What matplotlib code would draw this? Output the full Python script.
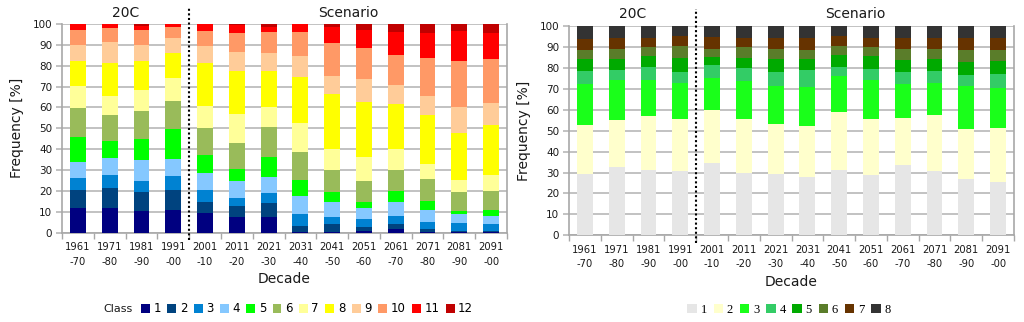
import matplotlib
matplotlib.use("Agg")
import matplotlib.pyplot as plt
from matplotlib.patches import Patch
import numpy as np

decades = ["1961\n-70", "1971\n-80", "1981\n-90", "1991\n-00", "2001\n-10", "2011\n-20",
           "2021\n-30", "2031\n-40", "2041\n-50", "2051\n-60", "2061\n-70", "2071\n-80",
           "2081\n-90", "2091\n-00"]

# Left chart: cumulative tops (%) of classes 1..11 per decade (class 12 fills to 100)
left_cum = [
    [12.0, 20.4, 26.4, 33.9, 45.8, 59.7, 70.3, 82.3, 89.9, 97.3, 100.0],
    [12.0, 21.6, 27.6, 35.9, 43.9, 56.2, 65.7, 81.2, 91.4, 98.1, 100.0],
    [10.5, 19.5, 24.8, 34.7, 44.7, 58.5, 68.4, 82.4, 90.1, 97.3, 99.1],
    [10.9, 20.3, 27.2, 35.5, 49.5, 63.3, 74.1, 85.9, 93.1, 98.6, 100.0],
    [9.3, 14.9, 20.3, 28.8, 37.4, 50.3, 60.9, 81.2, 89.3, 96.8, 100.0],
    [7.5, 12.9, 16.6, 24.9, 30.5, 42.8, 57.0, 77.5, 86.7, 95.7, 99.5],
    [7.7, 14.1, 18.8, 26.5, 36.4, 50.5, 60.4, 77.5, 86.1, 96.0, 98.4],
    [0.5, 3.2, 9.1, 17.6, 25.2, 38.8, 52.7, 74.4, 84.5, 96.0, 100.0],
    [0.3, 4.2, 7.7, 14.5, 19.6, 30.0, 39.9, 66.6, 74.9, 91.1, 98.4],
    [1.0, 2.7, 6.5, 11.7, 14.9, 24.9, 36.1, 62.5, 73.6, 88.7, 97.1],
    [1.9, 4.3, 8.0, 14.5, 19.8, 29.9, 39.9, 61.5, 70.6, 85.3, 96.0],
    [0.5, 1.6, 5.3, 10.9, 15.3, 25.6, 32.7, 56.2, 65.5, 83.9, 95.5],
    [0.3, 0.8, 4.5, 8.9, 10.2, 19.6, 25.2, 47.9, 60.2, 82.4, 96.8],
    [0.3, 0.6, 4.0, 7.8, 11.0, 20.1, 27.6, 51.6, 62.3, 83.2, 95.5],
]
left_classes = [str(i) for i in range(1, 13)]
left_colors = ["#000080", "#00437f", "#0082d2", "#85c8ff", "#00ff00", "#99bb5a",
               "#ffff99", "#ffff00", "#ffcc99", "#ff9966", "#ff0000", "#c00000"]

# Right chart: cumulative tops (%) of classes 1..7 (class 8 fills to 100)
right_cum = [
    [29.3, 52.9, 72.3, 78.5, 84.1, 88.7, 93.8],
    [32.6, 54.9, 74.0, 79.0, 84.4, 89.0, 94.1],
    [31.2, 57.2, 74.4, 80.6, 85.5, 90.1, 94.4],
    [30.6, 55.4, 72.6, 77.9, 84.9, 90.6, 95.1],
    [34.6, 59.7, 75.2, 81.2, 85.0, 89.2, 94.6],
    [29.8, 55.7, 73.9, 80.1, 84.9, 89.8, 94.4],
    [29.3, 53.2, 71.3, 77.9, 84.4, 89.2, 94.1],
    [27.7, 52.2, 71.0, 78.8, 84.4, 88.7, 94.1],
    [31.1, 59.1, 76.3, 80.6, 86.1, 90.3, 95.2],
    [28.7, 55.4, 74.0, 79.5, 85.8, 90.0, 94.4],
    [33.4, 55.9, 72.3, 78.0, 83.8, 88.9, 94.1],
    [30.9, 57.5, 72.6, 78.7, 84.4, 89.0, 94.1],
    [26.9, 50.6, 71.3, 76.6, 82.8, 88.4, 94.1],
    [25.6, 51.1, 70.2, 77.1, 83.4, 88.7, 94.1],
]
right_classes = [str(i) for i in range(1, 9)]
right_colors = ["#e6e6e6", "#ffffcc", "#1aff1a", "#33cc66", "#00aa00", "#5a7d2a",
                "#663300", "#333333"]

period_labels = ["20C", "Scenario"]


def to_parts(cum):
    arr = np.array([[0.0] + row + [100.0] for row in cum])
    return np.diff(arr, axis=1)  # shape (n_decades, n_classes)


GRID = "#b8b8b8"
SPINE = "#a8a8a8"
TXT = "#1a1a1a"

fig = plt.figure(figsize=(10.24, 3.22), dpi=100)
axL = fig.add_axes([62 / 1024, 1 - 232.7 / 322, 445 / 1024, 208.7 / 322])
axR = fig.add_axes([569 / 1024, 1 - 235.3 / 322, 445 / 1024, 209.3 / 322])


def draw(ax, cum, colors):
    parts = to_parts(cum)
    x = np.arange(len(decades))
    bottom = np.zeros(len(decades))
    for k in range(parts.shape[1]):
        ax.bar(x, parts[:, k], bottom=bottom, width=0.5, color=colors[k],
               linewidth=0, zorder=3)
        bottom += parts[:, k]
    ax.set_xlim(-0.5, len(decades) - 0.5)
    ax.set_ylim(0, 100)
    ax.set_yticks(np.arange(0, 101, 10))
    ax.yaxis.grid(True, color=GRID, linewidth=1.2, zorder=0)
    ax.set_axisbelow(True)
    ax.set_xticks(x)
    ax.set_xticklabels(decades, fontsize=7.2, color=TXT, linespacing=1.55)
    ax.set_xticks(np.arange(-0.5, len(decades), 1.0), minor=True)
    ax.tick_params(axis="x", which="major", length=0, pad=7)
    ax.tick_params(axis="x", which="minor", length=4, color=SPINE, width=1.0)
    ax.tick_params(axis="y", length=4, color=GRID, width=1.2, labelsize=7.5,
                   labelcolor=TXT, pad=3)
    for s in ax.spines.values():
        s.set_color(SPINE)
        s.set_linewidth(1.2)
    ax.spines["top"].set_visible(False)
    ax.plot([3.5, 3.5], [-3.5, 108], transform=ax.transData, color="black",
            linestyle=(0, (1, 1.2)), linewidth=1.5, clip_on=False, zorder=5)
    ax.text(1.5, 105.5, period_labels[0], ha="center", va="center", fontsize=10,
            color=TXT)
    ax.text(8.5, 105.5, period_labels[1], ha="center", va="center", fontsize=10,
            color=TXT)
    ax.set_xlabel("Decade", fontsize=10, color=TXT, labelpad=4)
    ax.set_ylabel("Frequency [%]", fontsize=10, color=TXT, labelpad=6)


draw(axL, left_cum, left_colors)
draw(axR, right_cum, right_colors)

# Left legend
fig.text(118 / 1024, 1 - 309 / 322, "Class", ha="center", va="center", fontsize=8,
         color=TXT)
hL = [Patch(facecolor=c, edgecolor="none") for c in left_colors]
fig.legend(hL, left_classes, loc="center", bbox_to_anchor=(307 / 1024, 1 - 309 / 322),
           ncol=12, frameon=False, fontsize=8.5, handlelength=0.75, handleheight=0.75,
           handletextpad=0.3, columnspacing=0.55, borderpad=0)

hR = [Patch(facecolor=c, edgecolor="none") for c in right_colors]
fig.legend(hR, right_classes, loc="center", bbox_to_anchor=(789 / 1024, 1 - 310 / 322),
           ncol=8, frameon=False, prop={"family": "Liberation Serif", "size": 9},
           handlelength=0.75, handleheight=0.75, handletextpad=0.3, columnspacing=0.55,
           borderpad=0)

fig.savefig("out.png", dpi=100)
